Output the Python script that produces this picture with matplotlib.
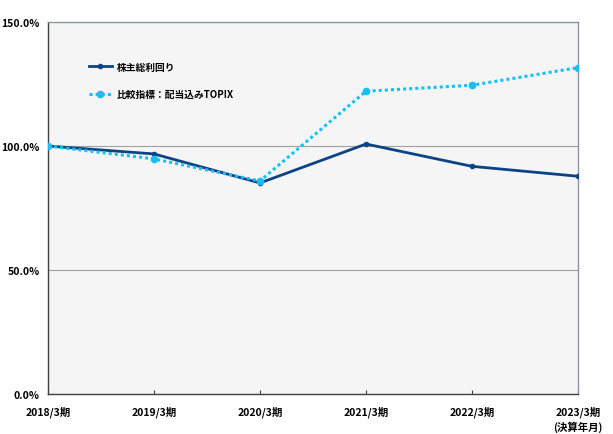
import matplotlib
matplotlib.use('Agg')
import matplotlib.pyplot as plt
from matplotlib.ticker import FuncFormatter

plt.rcParams['font.family'] = ['Noto Sans CJK JP', 'DejaVu Sans']

periods = ['2018/3期', '2019/3期', '2020/3期', '2021/3期', '2022/3期', '2023/3期']
tsr = [100.0, 96.8, 85.1, 100.8, 91.8, 87.8]
topix = [100.0, 94.8, 85.9, 122.1, 124.5, 131.6]

fig = plt.figure(figsize=(6.13, 4.35), dpi=100)
ax = fig.add_axes([48/613, 40/435, 530/613, 372/435])
ax.set_facecolor('#f5f5f5')

x = list(range(len(periods)))
ax.plot(x, tsr, color='#0c4385', lw=2.0, marker='o', ms=3, label='株主総利回り', zorder=3)
ax.plot(x, topix, color='#14c0f5', lw=2.2, ls=(0, (1, 1)), marker='o', ms=4.5,
        label='比較指標：配当込みTOPIX', zorder=3)

ax.set_xlim(0, 5)
ax.set_ylim(0, 150)
ax.set_yticks([0, 50, 100, 150])
ax.yaxis.set_major_formatter(FuncFormatter(lambda v, p: f'{v:.1f}%'))
ax.grid(axis='y', color='#a0a0a0', lw=0.8)
ax.set_axisbelow(True)

ax.set_xticks(x)
ax.set_xticklabels(periods)
ax.tick_params(axis='x', direction='in', length=3, color='#404040', pad=8)
ax.tick_params(axis='y', length=0, pad=6)
for lab in ax.get_xticklabels() + ax.get_yticklabels():
    lab.set_fontsize(7.5)
    lab.set_fontweight('bold')

for s in ['left', 'bottom']:
    ax.spines[s].set_color('#404040')
    ax.spines[s].set_linewidth(1.0)
for s in ['top', 'right']:
    ax.spines[s].set_color('#8a96a8')
    ax.spines[s].set_linewidth(1.0)

ax.text(1.0, -0.086, '(決算年月)', transform=ax.transAxes, ha='center', va='center',
        fontsize=7.5, fontweight='bold')

leg = ax.legend(loc='upper left', bbox_to_anchor=(0.06, 0.917), frameon=False,
                fontsize=7, handlelength=2.4, handletextpad=0.5, labelspacing=1.8)
for t in leg.get_texts():
    t.set_fontweight('bold')

fig.savefig('out.png', dpi=100)
